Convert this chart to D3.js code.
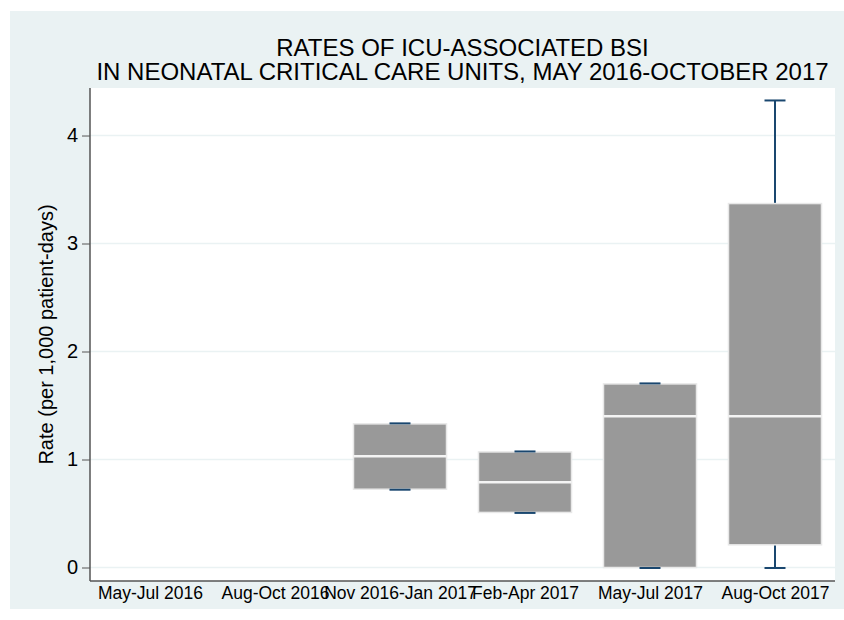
<!DOCTYPE html>
<html>
<head>
<meta charset="utf-8">
<script src="https://cdn.jsdelivr.net/npm/d3@7"></script>
<style>
  body { margin: 0; background: #fff; }
  text { font-family: "Liberation Sans", Arial, sans-serif; fill: #000; }
</style>
</head>
<body>
<svg id="chart" width="844" height="620"></svg>
<script>
// periods on the x axis
var periods = ["May-Jul 2016", "Aug-Oct 2016", "Nov 2016-Jan 2017", "Feb-Apr 2017", "May-Jul 2017", "Aug-Oct 2017"];
// box plot statistics per period (null = no data)
var lowWhisker = [null, null, 0.725, 0.51, 0, 0];
var q1Values = [null, null, 0.725, 0.51, 0, 0.21];
var medians = [null, null, 1.03, 0.79, 1.40, 1.40];
var q3Values = [null, null, 1.33, 1.07, 1.70, 3.37];
var highWhisker = [null, null, 1.33, 1.07, 1.70, 4.32];
var yTicks = [0, 1, 2, 3, 4];

(function() {
  var svg = d3.select("#chart");
  var pLeft = 90, pRight = 835, pTop = 88, pBottom = 581;

  // outer graph region
  svg.append("rect")
    .attr("x", 10).attr("y", 11)
    .attr("width", 834).attr("height", 598)
    .attr("fill", "#eaf2f3");

  svg.append("rect")
    .attr("x", pLeft).attr("y", pTop)
    .attr("width", pRight - pLeft).attr("height", pBottom - pTop)
    .attr("fill", "#fff");

  var x = d3.scalePoint()
    .domain(periods)
    .range([pLeft + 60, pRight - 60]);

  var y = d3.scaleLinear()
    .domain([-0.125, 4.44])
    .range([pBottom, pTop]);

  var boxW = 93, capW = 21;

  // grid lines
  svg.append("g").selectAll("line")
    .data(yTicks)
    .enter()
    .append("line")
    .attr("x1", pLeft).attr("x2", pRight)
    .attr("y1", d => y(d)).attr("y2", d => y(d))
    .attr("stroke", "#eaf2f3")
    .attr("stroke-width", 1.5);

  // y axis
  var yAxis = svg.append("g")
    .attr("transform", "translate(" + pLeft + ",0)")
    .call(d3.axisLeft(y).tickValues(yTicks).tickSize(8).tickPadding(4).tickFormat(d3.format("d")));
  yAxis.select(".domain").attr("stroke", "#555").attr("stroke-width", 1.5)
    .attr("d", "M0," + pTop + "V" + pBottom);
  yAxis.selectAll(".tick line").attr("stroke", "#555");
  yAxis.selectAll(".tick text")
    .style("font-size", "20px")
    .style("font-family", "Liberation Sans, Arial, sans-serif")
    .attr("fill", "#000");

  // x axis
  var xAxis = svg.append("g")
    .attr("transform", "translate(0," + pBottom + ")")
    .call(d3.axisBottom(x).tickSize(0).tickPadding(6));
  xAxis.select(".domain").attr("stroke", "#555").attr("stroke-width", 1.5)
    .attr("d", "M" + pLeft + ",0H" + pRight);
  xAxis.selectAll(".tick text")
    .style("font-size", "17.5px")
    .style("font-family", "Liberation Sans, Arial, sans-serif")
    .attr("fill", "#000");

  var idx = d3.range(periods.length).filter(i => medians[i] !== null);

  var boxes = svg.append("g").selectAll("g")
    .data(idx)
    .enter()
    .append("g");

  // whisker stems
  boxes.append("line")
    .attr("x1", i => x(periods[i])).attr("x2", i => x(periods[i]))
    .attr("y1", i => y(q3Values[i])).attr("y2", i => y(highWhisker[i]))
    .attr("stroke", "#1a476f").attr("stroke-width", 2);
  boxes.append("line")
    .attr("x1", i => x(periods[i])).attr("x2", i => x(periods[i]))
    .attr("y1", i => y(q1Values[i])).attr("y2", i => y(lowWhisker[i]))
    .attr("stroke", "#1a476f").attr("stroke-width", 2);

  // boxes
  boxes.append("rect")
    .attr("x", i => x(periods[i]) - boxW / 2)
    .attr("y", i => y(q3Values[i]))
    .attr("width", boxW)
    .attr("height", i => y(q1Values[i]) - y(q3Values[i]))
    .attr("fill", "#999999")
    .attr("stroke", "#e8e8e8")
    .attr("stroke-width", 1.5);

  // medians
  boxes.append("line")
    .attr("x1", i => x(periods[i]) - boxW / 2).attr("x2", i => x(periods[i]) + boxW / 2)
    .attr("y1", i => y(medians[i])).attr("y2", i => y(medians[i]))
    .attr("stroke", "#f4f4f4").attr("stroke-width", 2.5);

  // whisker caps, on top of the boxes
  boxes.append("line")
    .attr("x1", i => x(periods[i]) - capW / 2).attr("x2", i => x(periods[i]) + capW / 2)
    .attr("y1", i => y(highWhisker[i]) - 0.5).attr("y2", i => y(highWhisker[i]) - 0.5)
    .attr("stroke", "#1a476f").attr("stroke-width", 2);
  boxes.append("line")
    .attr("x1", i => x(periods[i]) - capW / 2).attr("x2", i => x(periods[i]) + capW / 2)
    .attr("y1", i => y(lowWhisker[i]) + 0.5).attr("y2", i => y(lowWhisker[i]) + 0.5)
    .attr("stroke", "#1a476f").attr("stroke-width", 2);

  // titles
  svg.append("text")
    .attr("x", (pLeft + pRight) / 2).attr("y", 56)
    .attr("text-anchor", "middle")
    .style("font-size", "24px")
    .text("RATES OF ICU-ASSOCIATED BSI");
  svg.append("text")
    .attr("x", (pLeft + pRight) / 2).attr("y", 80)
    .attr("text-anchor", "middle")
    .style("font-size", "24px")
    .text("IN NEONATAL CRITICAL CARE UNITS, MAY 2016-OCTOBER 2017");

  svg.append("text")
    .attr("transform", "translate(53," + ((pTop + pBottom) / 2) + ") rotate(-90)")
    .attr("text-anchor", "middle")
    .style("font-size", "20px")
    .text("Rate (per 1,000 patient-days)");
})();
</script>
</body>
</html>
